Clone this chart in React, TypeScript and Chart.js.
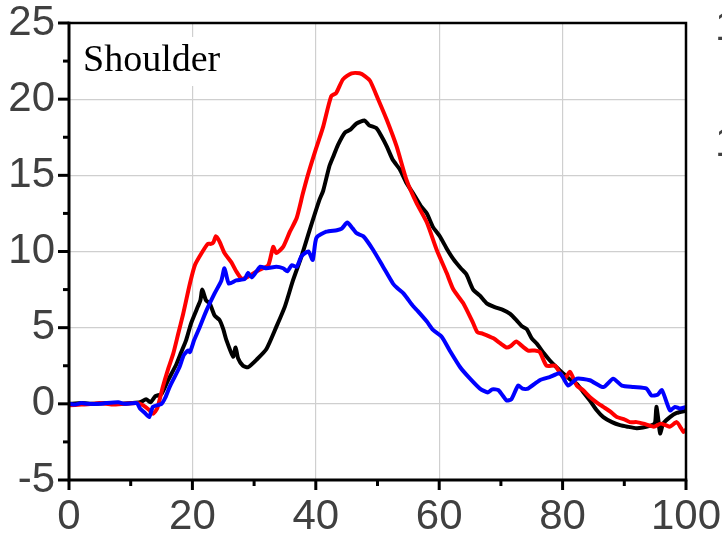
import React, { useEffect, useRef } from "react";
import { Chart, registerables } from "chart.js";

Chart.register(...registerables);

const panelLabel = "Shoulder";
const xTickValues = [0, 20, 40, 60, 80, 100];
const yTickValues = [-5, 0, 5, 10, 15, 20, 25];

const blackX = [0, 2, 4, 6, 8, 10, 11.5, 12.5, 13.2, 14, 15, 16, 17.4, 18.2, 19, 19.8, 20.9, 21.3, 21.6, 22.2, 22.8, 23.6, 24.4, 25, 25.5, 26.6, 27, 27.4, 28.2, 29, 30.4, 32, 33.6, 35, 36.3, 37.7, 39, 40.6, 41.2, 42.2, 42.8, 43.6, 44.7, 45.6, 46.6, 47.9, 48.6, 49.8, 50.6, 51.5, 52.5, 53.6, 54.7, 55.8, 57, 58, 59, 60.1, 61.2, 62.3, 63.5, 64.4, 65.5, 66.6, 67.7, 69, 70.4, 71.5, 72.5, 73.4, 74.2, 75, 75.8, 77, 77.9, 79, 80.1, 81.2, 82.3, 83.3, 84.4, 85.5, 86.6, 88, 89.3, 90.5, 92, 93, 94.5, 95, 95.2, 95.5, 95.8, 96.3, 97.4, 98.5, 100];
const blackY = [0, 0.05, 0, 0.05, 0, 0.05, 0.1, 0.3, 0.1, 0.5, 0.65, 1.5, 2.6, 3.4, 4.2, 5.3, 6.4, 6.8, 7.5, 6.8, 6.6, 5.8, 5.5, 4.9, 4.2, 3.1, 3.7, 3.0, 2.5, 2.4, 2.9, 3.6, 5.05, 6.4, 8.1, 9.7, 11.4, 13.4, 14.0, 15.6, 16.2, 17.0, 17.8, 18.0, 18.4, 18.6, 18.3, 18.1, 17.6, 16.9, 16.0, 15.4, 14.5, 13.8, 13.0, 12.5, 11.6, 11.0, 10.2, 9.5, 8.9, 8.5, 7.5, 7.1, 6.6, 6.35, 6.15, 5.9, 5.5, 5.1, 4.9, 4.3, 3.96, 3.3, 2.86, 2.4, 2.0, 1.6, 1.3, 0.8, 0.23, -0.4, -0.87, -1.2, -1.4, -1.5, -1.6, -1.55, -1.4, -1.2, -0.2, -1.0, -1.95, -1.3, -0.87, -0.6, -0.45];

const redX = [0, 2, 4, 5, 7, 9, 11, 12, 13, 13.6, 14.3, 15.2, 16, 16.9, 17.7, 18.5, 19.6, 20.4, 21.5, 22.5, 23, 23.4, 23.8, 24.4, 25.2, 26.3, 27.1, 28, 28.8, 29.6, 30.9, 32.3, 33.1, 33.6, 34.7, 35.8, 36.9, 37.9, 38.7, 39.6, 40.4, 41.2, 42.5, 43.3, 44.4, 45.8, 47.1, 48, 48.8, 50.1, 51.5, 53.1, 54.7, 56.3, 58, 59.6, 61.2, 62.3, 63.9, 65.5, 66.2, 67.1, 68.8, 69.8, 70.9, 71.6, 72.5, 73.4, 74.4, 75.5, 76.3, 77.4, 78.8, 79.6, 80.4, 81.2, 82.3, 83.3, 84.4, 85.5, 86.6, 87.7, 88.8, 89.9, 90.9, 92, 93.1, 94.8, 95.9, 96.7, 97.4, 98.5, 99.2, 99.6, 100];
const redY = [-0.1, -0.05, 0, 0.05, -0.05, 0, 0.05, -0.1, -0.4, -0.65, -0.3, 1.1, 2.2, 3.3, 4.6, 5.9, 7.9, 9.1, 9.9, 10.5, 10.5, 10.6, 11.0, 10.65, 9.9, 9.3, 8.7, 8.2, 8.3, 8.5, 8.8, 9.1, 10.3, 9.9, 10.3, 11.3, 12.2, 13.8, 15.0, 16.2, 17.2, 18.2, 20.2, 20.4, 21.3, 21.7, 21.7, 21.5, 21.2, 20.0, 18.65, 16.9, 14.7, 13.2, 11.9, 10.1, 8.6, 7.5, 6.6, 5.3, 4.7, 4.6, 4.3, 4.0, 3.7, 3.8, 4.1, 3.8, 3.5, 3.5, 3.4, 2.5, 2.5, 2.0, 1.7, 2.1, 1.2, 0.9, 0.45, 0.1, -0.2, -0.5, -0.87, -1.0, -1.2, -1.2, -1.3, -1.5, -1.3, -1.4, -1.5, -1.2, -1.6, -1.85, -1.7];

const blueX = [0, 1, 2, 3, 5, 6, 8, 9, 11, 11.5, 12.3, 13, 13.6, 15, 15.6, 16.3, 17.9, 18.6, 19.3, 19.6, 20.3, 21.2, 22.3, 23.6, 24.7, 25.2, 25.9, 27.1, 28.5, 29, 29.6, 30.4, 31, 32, 33.6, 34.7, 35.4, 36.1, 36.9, 37.7, 38.8, 39.5, 40.1, 41.7, 43.4, 44.2, 45.1, 46, 46.6, 47.7, 49.3, 50.9, 52.5, 53.2, 54.2, 55.8, 56.5, 58, 59, 60.4, 61.7, 63.4, 65, 66.6, 67.9, 68.6, 69.6, 70.9, 71.7, 72.8, 73.5, 74.4, 76.3, 77.9, 79.6, 80.9, 82.3, 84.4, 86.6, 88.2, 89.6, 91.5, 93.6, 94.4, 95.4, 96.1, 97.4, 98.2, 99, 100];
const blueY = [0, -0.05, 0.05, 0, 0, 0.05, 0.1, 0, 0.05, -0.3, -0.6, -0.87, -0.2, 0, 0.4, 1.1, 2.4, 3.2, 3.5, 3.4, 4.2, 5.05, 6.15, 7.25, 8.1, 8.9, 7.9, 8.1, 8.2, 8.6, 8.3, 8.7, 9.0, 8.9, 9.0, 8.9, 8.7, 9.1, 9.0, 9.7, 10.0, 9.45, 10.9, 11.3, 11.4, 11.5, 11.9, 11.5, 11.2, 11.0, 10.1, 9.0, 7.9, 7.6, 7.25, 6.4, 6.1, 5.4, 4.85, 4.4, 3.5, 2.4, 1.65, 1.0, 0.75, 0.95, 0.9, 0.23, 0.3, 1.2, 1.0, 1.0, 1.55, 1.76, 2.0, 1.2, 1.65, 1.55, 1.1, 1.65, 1.2, 1.1, 1.0, 0.55, 0.6, 0.9, -0.43, -0.2, -0.3, -0.2];

const toPoints = (xs: number[], ys: number[]) => xs.map((x, i) => ({ x, y: ys[i] }));

const decorPlugin = {
  id: "decor",
  beforeDatasetsDraw(chart: any) {
    const { ctx, chartArea } = chart;
    ctx.save();
    ctx.fillStyle = "#ffffff";
    ctx.fillRect(chartArea.left + 3, chartArea.top + 14, 160, 49);
    ctx.fillStyle = "#000000";
    ctx.font = '38px "Liberation Serif"';
    ctx.textBaseline = "alphabetic";
    ctx.textAlign = "left";
    ctx.fillText(panelLabel, chartArea.left + 14, chartArea.top + 48);
    ctx.restore();
  },
  afterDraw(chart: any) {
    const { ctx, chartArea } = chart;
    const { left, right, top, bottom } = chartArea;
    const xs = chart.scales.x;
    const ys = chart.scales.y;
    ctx.save();
    ctx.strokeStyle = "#000000";
    ctx.lineCap = "butt";
    ctx.lineWidth = 2.5;
    ctx.beginPath();
    ctx.moveTo(left, top);
    ctx.lineTo(right, top);
    ctx.lineTo(right, bottom);
    ctx.stroke();
    ctx.lineWidth = 3;
    ctx.beginPath();
    ctx.moveTo(left, top - 1.25);
    ctx.lineTo(left, bottom);
    ctx.lineTo(right + 1.25, bottom);
    ctx.stroke();
    for (let v = -5; v <= 25.001; v += 2.5) {
      const py = ys.getPixelForValue(v);
      const len = Math.abs(v % 5) < 0.01 ? 11 : 6;
      ctx.beginPath();
      ctx.moveTo(left, py);
      ctx.lineTo(left - len, py);
      ctx.stroke();
    }
    for (let v = 0; v <= 100.001; v += 10) {
      const px = xs.getPixelForValue(v);
      const len = v % 20 === 0 ? 10 : 6;
      ctx.beginPath();
      ctx.moveTo(px, bottom);
      ctx.lineTo(px, bottom + len);
      ctx.stroke();
    }
    // partial labels of the neighbouring panel, cut by the image edge
    ctx.fillStyle = "#404040";
    ctx.font = '42px "Liberation Sans"';
    ctx.textBaseline = "alphabetic";
    ctx.textAlign = "left";
    ctx.fillText("1", right + 29, top + 17);
    ctx.fillText("1", right + 29, top + 133);
    ctx.restore();
  },
};

const zeroPadding = (axis: any) => {
  axis.paddingTop = 0;
  axis.paddingBottom = 0;
  axis.paddingLeft = 0;
  axis.paddingRight = 0;
};

export default function App() {
  const ref = useRef<HTMLCanvasElement | null>(null);
  useEffect(() => {
    if (!ref.current) return;
    const tickFont = { family: '"Liberation Sans", Arial, sans-serif', size: 42, lineHeight: 1 };
    const chart = new Chart(ref.current, {
      type: "line",
      data: {
        datasets: [
          { label: "blue", data: toPoints(blueX, blueY), borderColor: "#0000ff" },
          { label: "red", data: toPoints(redX, redY), borderColor: "#ff0000" },
          { label: "black", data: toPoints(blackX, blackY), borderColor: "#000000" },
        ].map((d) => ({
          ...d,
          borderWidth: 4,
          pointRadius: 0,
          tension: 0.2,
          fill: false,
          borderJoinStyle: "round" as const,
          borderCapStyle: "round" as const,
        })),
      },
      plugins: [decorPlugin],
      options: {
        animation: false,
        responsive: false,
        devicePixelRatio: 1,
        layout: { autoPadding: false, padding: { left: 0, top: 23, right: 36, bottom: 0 } },
        plugins: { legend: { display: false }, title: { display: false }, tooltip: { enabled: false } },
        scales: {
          x: {
            type: "linear",
            min: 0,
            max: 100,
            afterBuildTicks: (axis: any) => {
              axis.ticks = xTickValues.map((v) => ({ value: v }));
            },
            afterFit: (axis: any) => {
              axis.height = 60;
              zeroPadding(axis);
            },
            grid: { color: "#cfcfcf", lineWidth: 1.2, drawTicks: false },
            border: { display: false },
            ticks: { color: "#404040", font: tickFont, padding: 16, maxRotation: 0, autoSkip: false },
          },
          y: {
            type: "linear",
            min: -5,
            max: 25,
            afterBuildTicks: (axis: any) => {
              axis.ticks = yTickValues.map((v) => ({ value: v }));
            },
            afterFit: (axis: any) => {
              axis.width = 69;
              zeroPadding(axis);
            },
            grid: { color: "#cfcfcf", lineWidth: 1.2, drawTicks: false },
            border: { display: false },
            ticks: { color: "#404040", font: tickFont, padding: 14, autoSkip: false },
          },
        },
      },
    });
    return () => chart.destroy();
  }, []);
  return (
    <div style={{ position: "fixed", left: 0, top: 0, width: 722, height: 540, background: "#fff" }}>
      <canvas ref={ref} width={722} height={540} style={{ display: "block" }} />
    </div>
  );
}
